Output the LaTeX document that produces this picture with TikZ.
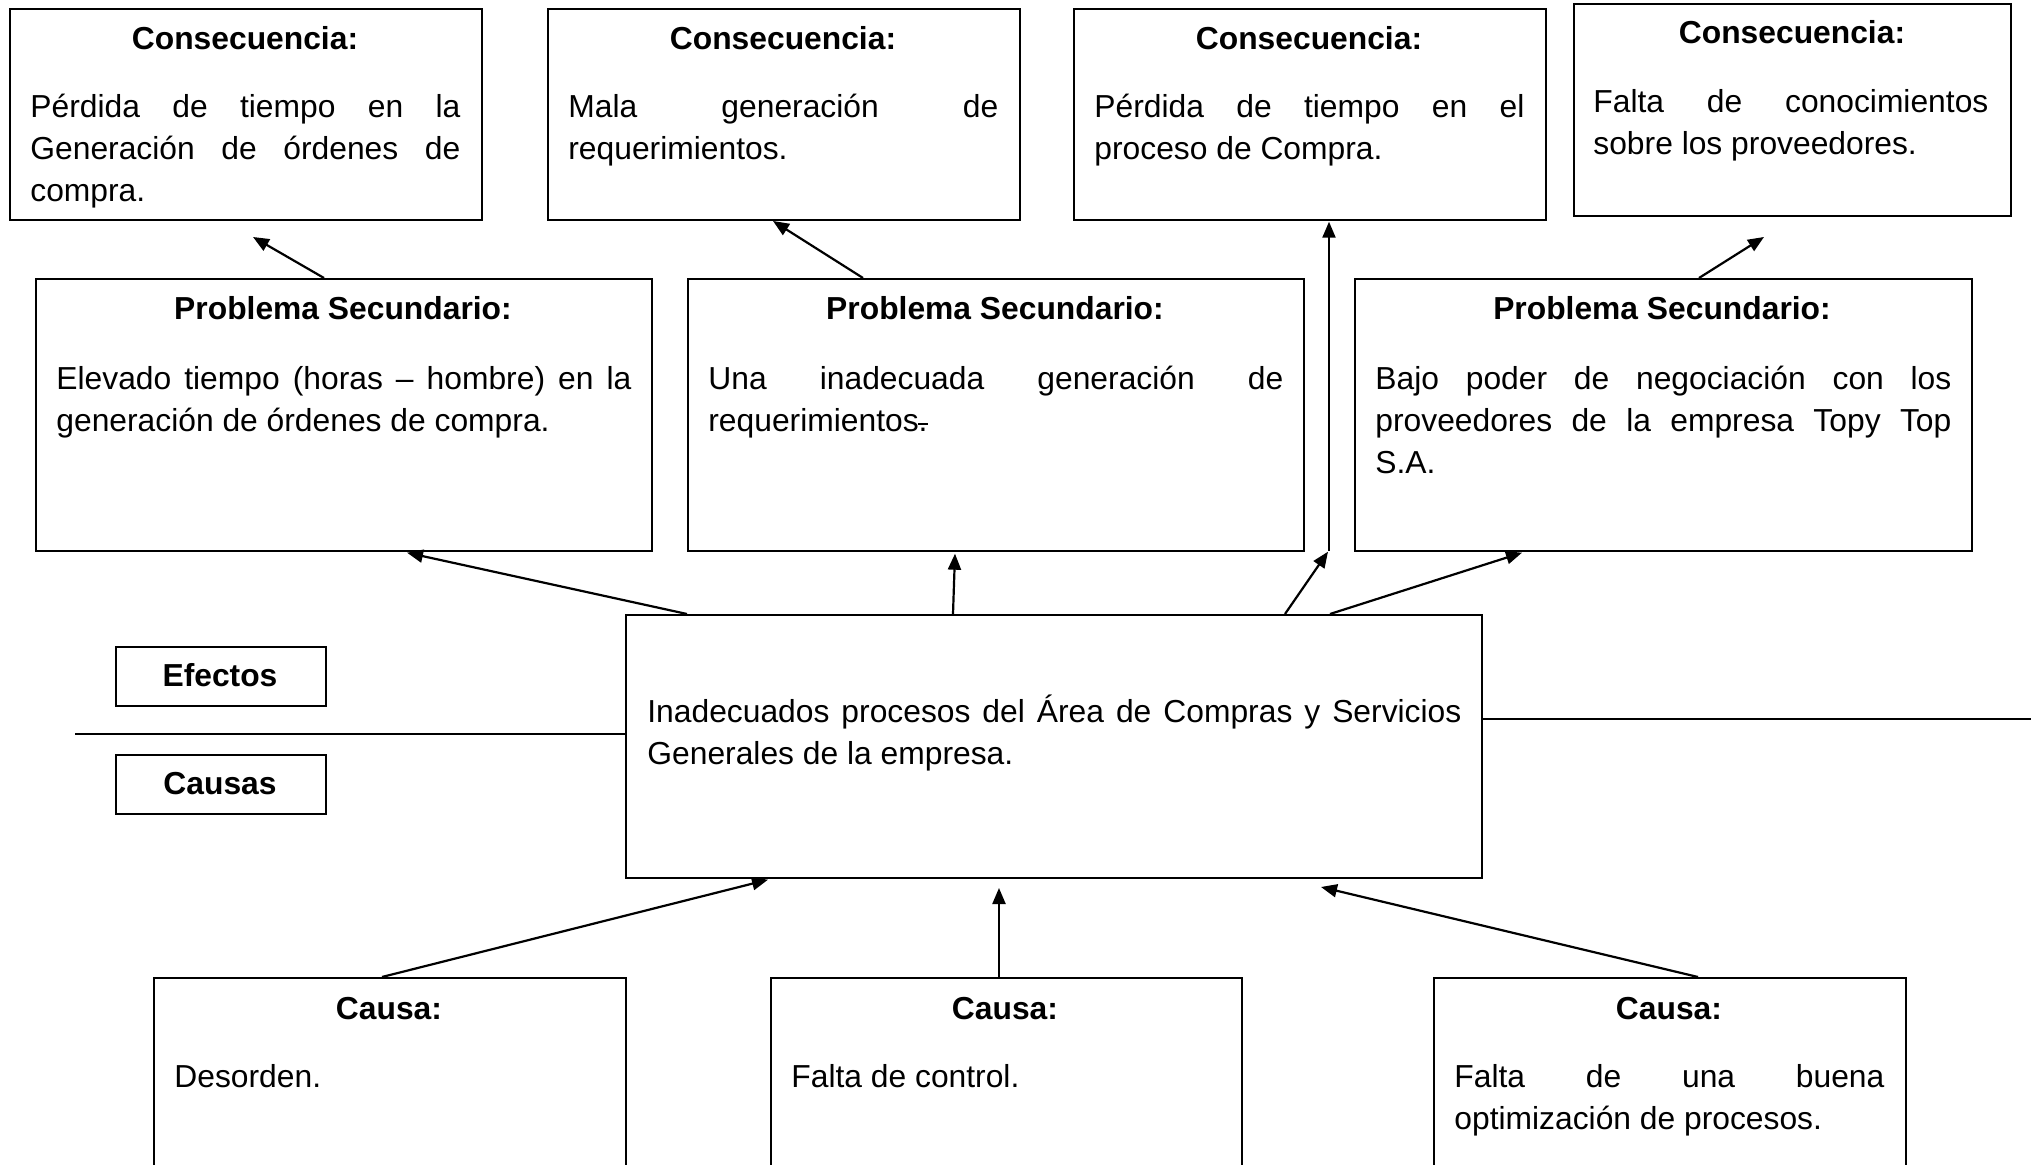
\documentclass[tikz,border=0pt]{standalone}
\usepackage{fontspec}
\setmainfont{Liberation Sans}
\usetikzlibrary{arrows.meta,calc}
\tolerance=10000
\hyphenpenalty=10000
\exhyphenpenalty=10000
\newcommand\mybox[5]{\node[box, minimum width={(#4-#2)*0.5pt}, minimum height={(#5-#3)*0.5pt}] (#1) at (#2,#3) {};}
\begin{document}
\begin{tikzpicture}[x=0.5pt,y=-0.5pt,
  box/.style={draw=black, line width=0.85pt, rectangle, inner sep=0pt, anchor=north west},
  ttl/.style={font=\fontsize{15.9pt}{21pt}\selectfont\bfseries, anchor=base, inner sep=0pt},
  txt/.style={font=\fontsize{15.9pt}{21pt}\selectfont, anchor=base west, inner sep=0pt, align=justify},
  arr/.style={line width=1.1pt, -{Triangle[length=8pt,width=6.5pt]}},
  ln/.style={line width=0.85pt}]
\useasboundingbox (0,0) rectangle (2036,1165);
\clip (0,0) rectangle (2036,1165);

% boxes
\mybox{C1}{9}{8}{481}{219}
\mybox{C2}{547}{8}{1019}{219}
\mybox{C3}{1073}{8}{1545}{219}
\mybox{C4}{1573}{3}{2010}{215}
\mybox{P1}{35}{278}{651}{550}
\mybox{P2}{687}{278}{1303}{550}
\mybox{P3}{1354}{278}{1971}{550}
\mybox{M}{625}{614}{1481}{877}
\mybox{EF}{115}{646}{325}{705}
\mybox{CS}{115}{754}{325}{813}
\mybox{K1}{153}{977}{625}{1185}
\mybox{K2}{770}{977}{1241}{1185}
\mybox{K3}{1433}{977}{1905}{1185}

% texts
\node[ttl] (C1t) at (245,50) {Consecuencia:};
\node[txt, text width=215pt] (C1b) at (30,118) {Pérdida de tiempo en la\linebreak Generación de órdenes de\linebreak compra.};
\node[ttl] (C2t) at (783,50) {Consecuencia:};
\node[txt, text width=215pt] (C2b) at (568,118) {Mala generación de\linebreak requerimientos.};
\node[ttl] (C3t) at (1309,50) {Consecuencia:};
\node[txt, text width=215pt] (C3b) at (1094,118) {Pérdida de tiempo en el\linebreak proceso de Compra.};
\node[ttl] (C4t) at (1792,44) {Consecuencia:};
\node[txt, text width=197.5pt] (C4b) at (1593,113) {Falta de conocimientos\linebreak sobre los proveedores.};

\node[ttl] (P1t) at (343,320) {Problema Secundario:};
\node[txt, text width=287.5pt] (P1b) at (56,390) {Elevado tiempo (horas – hombre) en la\linebreak generación de órdenes de compra.};
\node[ttl] (P2t) at (995,320) {Problema Secundario:};
\node[txt, text width=287.5pt] (P2b) at (708,390) {Una inadecuada generación de\linebreak requerimientos.\llap{\rule[0.22em]{0.3em}{0.05em}}};
\node[ttl] (P3t) at (1662,320) {Problema Secundario:};
\node[txt, text width=288pt] (P3b) at (1375,390) {Bajo poder de negociación con los\linebreak proveedores de la empresa Topy Top\linebreak S.A.};

\node[txt, text width=407pt] (Mb) at (647,723) {Inadecuados procesos del Área de Compras y Servicios\linebreak Generales de la empresa.};

\node[ttl] (EFt) at (220,687) {Efectos};
\node[ttl] (CSt) at (220,795) {Causas};

\node[ttl] (K1t) at (389,1019) {Causa:};
\node[txt, text width=215pt] (K1b) at (174,1087) {Desorden.};
\node[ttl] (K2t) at (1005,1019) {Causa:};
\node[txt, text width=215pt] (K2b) at (791,1087) {Falta de control.};
\node[ttl] (K3t) at (1669,1019) {Causa:};
\node[txt, text width=215pt] (K3b) at (1454,1087) {Falta de una buena\linebreak optimización de procesos.};

% horizontal lines
\coordinate (Lend) at (75,734);
\coordinate (Rend) at (2031,719);
\draw[ln] (Lend) -- ($(M.north west)+(0,120)$);
\draw[ln] ($(M.north east)+(0,105)$) -- (Rend);

% free arrow tips
\coordinate (T1) at (253,237);
\coordinate (T2) at (773,221);
\coordinate (T4) at (1764,237);
\coordinate (TK2) at (999,888);
\coordinate (TK3) at (1321,887);

% effects
\draw[arr] ($(P1.north west)+(289,0)$) -- (T1);
\draw[arr] ($(P2.north west)+(176,0)$) -- (T2);
\draw[arr] ($(P3.north west)+(345,0)$) -- (T4);
\draw[arr] ($(C3.south west)+(256,-1)$) ++(0,331) coordinate (V0) -- ($(C3.south west)+(256,1)$);
\draw[arr] ($(M.north west)+(62,0)$) -- ($(P1.south west)+(372,1)$);
\draw[arr] ($(M.north west)+(328,0)$) -- ($(P2.south west)+(268,2)$);
\draw[arr] ($(M.north west)+(660,0)$) -- ($(V0)+(-1,1)$);
\draw[arr] ($(M.north west)+(705,0)$) -- ($(P3.south west)+(168,1)$);

% causes
\draw[arr] ($(K1.north west)+(229,0)$) -- ($(M.south west)+(143,1)$);
\draw[arr] ($(K2.north west)+(229,0)$) -- (TK2);
\draw[arr] ($(K3.north west)+(265,0)$) -- (TK3);
\end{tikzpicture}
\end{document}
